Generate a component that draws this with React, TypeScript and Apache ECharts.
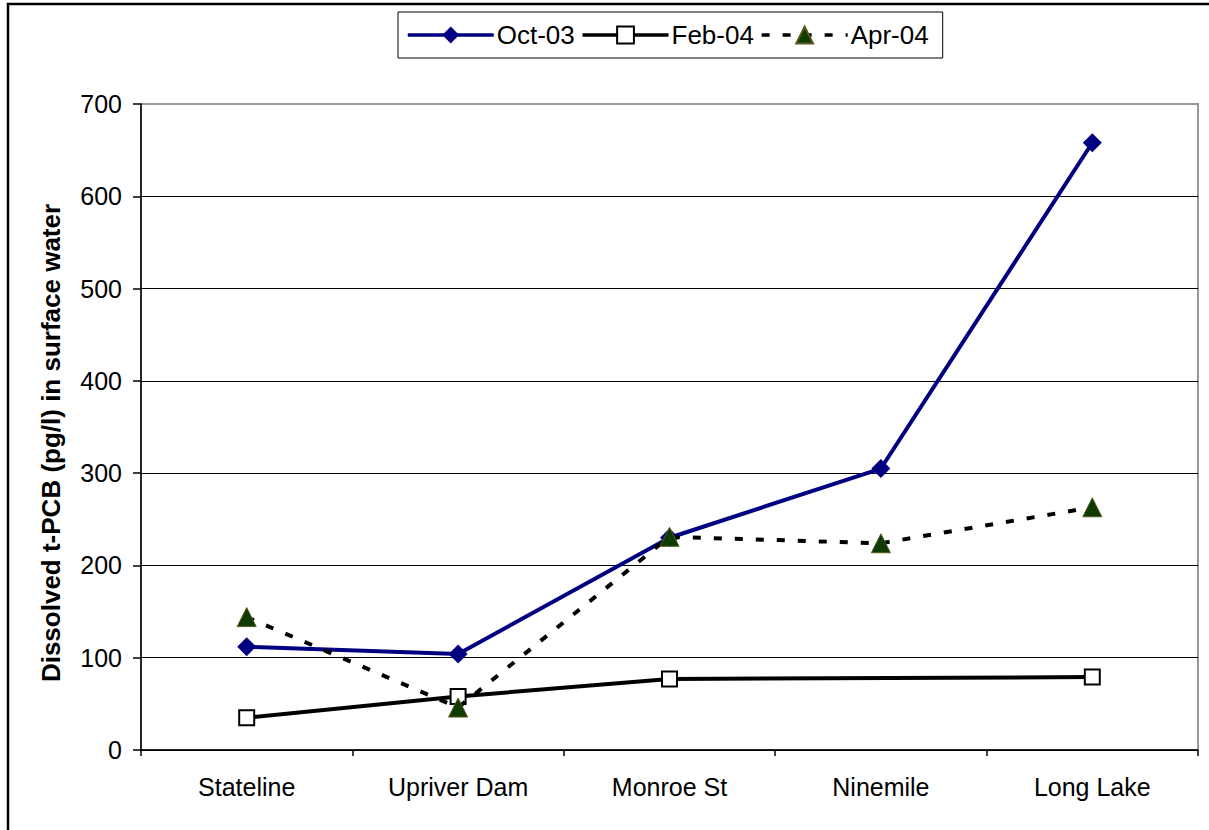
import React, { useEffect, useRef } from "react";
import * as echarts from "echarts";

const categories = ["Stateline", "Upriver Dam", "Monroe St", "Ninemile", "Long Lake"];
const oct03 = [112, 104, 230, 305, 658];
const feb04: (number | null)[] = [35, 58, 77, null, 79];
const apr04 = [144, 46, 231, 224, 263];
const yTicks = { min: 0, max: 700, interval: 100 };
const yTitle = "Dissolved t-PCB (pg/l) in surface water";

const FONT = "'Liberation Sans', Arial, sans-serif";

export default function App() {
  const ref = useRef<HTMLDivElement>(null);
  useEffect(() => {
    if (!ref.current) return;
    const chart = echarts.init(ref.current, undefined, { renderer: "svg" });
    chart.setOption({
      animation: false,
      backgroundColor: "#fff",
      textStyle: { fontFamily: FONT, color: "#000" },
      grid: {
        left: 141,
        right: 11,
        top: 104,
        bottom: 80,
        show: true,
        borderColor: "#999",
        borderWidth: 2,
        backgroundColor: "transparent",
      },
      legend: {
        left: 398,
        top: 12,
        orient: "horizontal",
        itemWidth: 86,
        itemHeight: 21,
        itemGap: 6,
        padding: [8, 14, 8, 8],
        borderColor: "#000",
        borderWidth: 1,
        backgroundColor: "#fff",
        lineStyle: { width: 3.5 },
        textStyle: { fontFamily: FONT, fontSize: 26, color: "#000", lineHeight: 30, padding: [0, 0, 0, -2] },
        data: ["Oct-03", "Feb-04", "Apr-04"],
      },
      xAxis: {
        type: "category",
        data: categories,
        boundaryGap: true,
        axisLine: { show: true, lineStyle: { color: "#000", width: 1.5 } },
        axisTick: { show: true, length: 6, alignWithLabel: false, lineStyle: { color: "#000", width: 1.5 } },
        axisLabel: { fontFamily: FONT, fontSize: 25, color: "#000", margin: 24, interval: 0 },
        splitLine: { show: false },
      },
      yAxis: {
        type: "value",
        min: yTicks.min,
        max: yTicks.max,
        interval: yTicks.interval,
        axisLine: { show: true, lineStyle: { color: "#000", width: 1.5 } },
        axisTick: { show: true, length: 8, inside: false, lineStyle: { color: "#000", width: 1.5 } },
        axisLabel: { fontFamily: FONT, fontSize: 25, color: "#000", margin: 19 },
        splitLine: {
          show: true,
          lineStyle: { color: ["#000", "#000", "#000", "#000", "#000", "#000", "#000", "#999"], width: 1 },
        },
      },
      graphic: [
        {
          type: "polyline",
          shape: { points: [[8, 830], [8, 4], [1209, 4]] },
          style: { stroke: "#000", lineWidth: 2.5, fill: null },
          z: 100,
        },
        {
          type: "text",
          x: 51,
          y: 443,
          rotation: Math.PI / 2,
          style: {
            text: yTitle,
            font: `bold 26px ${FONT}`,
            fill: "#000",
            textAlign: "center",
            textVerticalAlign: "middle",
          },
        },
      ],
      series: [
        {
          name: "Oct-03",
          type: "line",
          data: oct03,
          symbol: "diamond",
          symbolSize: 19,
          lineStyle: { color: "#000080", width: 4 },
          itemStyle: { color: "#000080" },
          z: 4,
        },
        {
          name: "Feb-04",
          type: "line",
          data: feb04,
          connectNulls: true,
          symbol: "rect",
          symbolSize: 15,
          lineStyle: { color: "#000", width: 4 },
          itemStyle: { color: "#fff", borderColor: "#000", borderWidth: 2 },
          z: 3,
        },
        {
          name: "Apr-04",
          type: "line",
          data: apr04,
          symbol: "triangle",
          symbolSize: 19,
          lineStyle: { color: "#000", width: 4, type: [8, 13] },
          itemStyle: { color: "#0f3a00", borderColor: "#5a5a20", borderWidth: 1 },
          z: 5,
        },
      ],
    });
    return () => chart.dispose();
  }, []);
  return (
    <div
      ref={ref}
      style={{ position: "fixed", left: 0, top: 0, width: 1209, height: 830, background: "#fff" }}
    />
  );
}
